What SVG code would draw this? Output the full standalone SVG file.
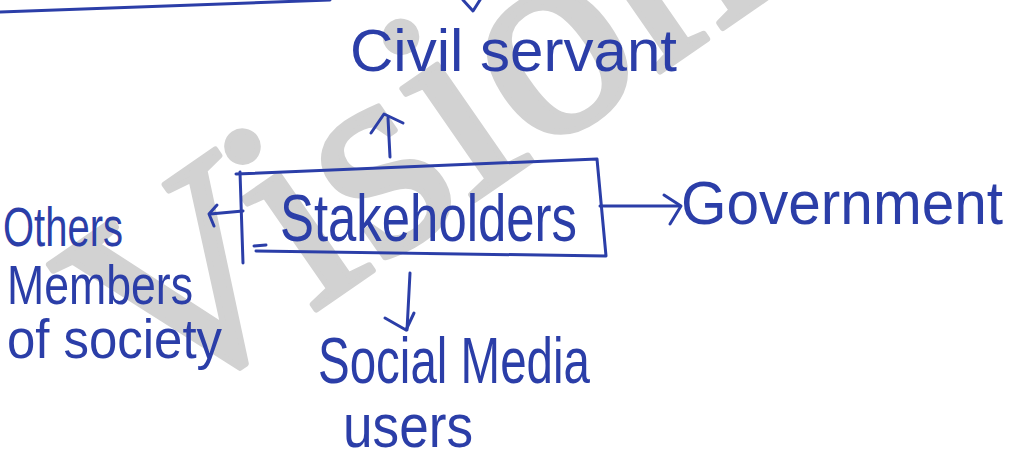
<svg xmlns="http://www.w3.org/2000/svg" width="1009" height="453" viewBox="0 0 1009 453">
<style>
.ink{fill:none;stroke:#2b3ea8;stroke-width:3;stroke-linecap:round;stroke-linejoin:round}
.t{font-family:"Liberation Sans","DejaVu Sans",sans-serif;fill:#2b3ea8;font-weight:normal}
.wm{font-family:"Liberation Serif","DejaVu Serif",serif;fill:#d2d2d2;stroke:#d2d2d2;stroke-width:6;stroke-linejoin:round;font-size:289px;font-weight:normal}
</style>
<rect width="1009" height="453" fill="#ffffff"/>
<g id="watermark">
<text class="wm" transform="translate(154,422) rotate(-34.7)">VisionIAS</text>
</g>
<g id="decor">
<path class="ink" d="M0,12 Q150,6 330,0"/>
<path class="ink" d="M463,0 L473,11 L480,0"/>
</g>
<g id="connectors">
<path class="ink" d="M390,157 L388,118"/>
<path class="ink" d="M371,133 L384,114 L403,123"/>
<path class="ink" d="M243,211 L210,214"/>
<path class="ink" d="M217,205 L209,214 L214,226"/>
<path class="ink" d="M600,206 L680,206"/>
<path class="ink" d="M664,195 L681,206 L670,224"/>
<path class="ink" d="M410,273 L407,330"/>
<path class="ink" d="M385,318 L406,330 L414,313"/>
</g>
<g id="stakeholders">
<path class="ink" d="M236,174 L597,159 L606,256 L256,251"/>
<path class="ink" d="M240,172 L243,263"/>
<path class="ink" d="M254,246 L266,245"/>
<text class="t" x="280" y="241" font-size="66" textLength="297" lengthAdjust="spacingAndGlyphs">Stakeholders</text>
</g>
<g id="civil-servant">
<text class="t" x="350" y="71" font-size="60" textLength="327" lengthAdjust="spacingAndGlyphs">Civil servant</text>
</g>
<g id="government">
<text class="t" x="681" y="224" font-size="62" textLength="322" lengthAdjust="spacingAndGlyphs">Government</text>
</g>
<g id="others">
<text class="t" x="3" y="246" font-size="56" textLength="120" lengthAdjust="spacingAndGlyphs">Others</text>
<text class="t" x="7" y="304" font-size="56" textLength="186" lengthAdjust="spacingAndGlyphs">Members</text>
<text class="t" x="7" y="358" font-size="56" textLength="215" lengthAdjust="spacingAndGlyphs">of society</text>
</g>
<g id="social-media">
<text class="t" x="318" y="383" font-size="64" textLength="272" lengthAdjust="spacingAndGlyphs">Social Media</text>
<text class="t" x="343" y="447" font-size="62" textLength="130" lengthAdjust="spacingAndGlyphs">users</text>
</g>
</svg>
